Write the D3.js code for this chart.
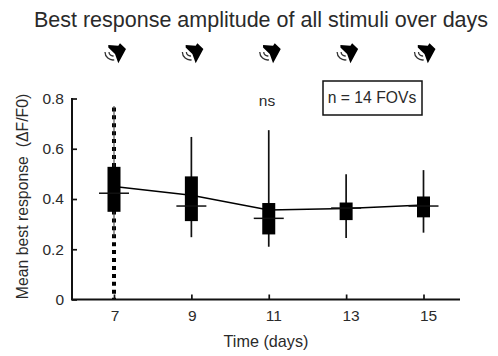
<!DOCTYPE html>
<html>
<head>
<meta charset="utf-8">
<script src="https://cdn.jsdelivr.net/npm/d3@7"></script>
<style>
  html, body { margin: 0; padding: 0; background: #fff; }
  text { font-family: "Liberation Sans", Arial, sans-serif; fill: #2a2a2a; }
</style>
</head>
<body>
<div id="chart"></div>
<script>
var w = 498, h = 356;

// Values
var days = [7, 9, 11, 13, 15];
var whiskerLow = [0, 0.248, 0.21, 0.245, 0.266];
var whiskerHigh = [0.77, 0.647, 0.674, 0.499, 0.515];
var boxLow = [0.349, 0.312, 0.259, 0.316, 0.327];
var boxHigh = [0.528, 0.49, 0.384, 0.386, 0.41];
var medians = [0.423, 0.372, 0.323, 0.364, 0.372];
var means = [0.45, 0.415, 0.356, 0.362, 0.376];
var yTicks = [0, 0.2, 0.4, 0.6, 0.8];
var dottedThinLow = 0.25; // thin core of the day 7 whisker stops here

var svg = d3.select("#chart")
  .append("svg")
  .attr("width", w)
  .attr("height", h)
  .style("display", "block");

// Day 7 sits at 114, each step of 2 days is about 77.4px
var xScale = d3.scaleLinear()
  .domain([7, 15])
  .range([114, 423.5]);

var yScale = d3.scaleLinear()
  .domain([0, 0.8])
  .range([299.5, 98.5]);

// Title
svg.append("text")
  .attr("x", 261)
  .attr("y", 27)
  .attr("text-anchor", "middle")
  .style("font-size", "21.5px")
  .text("Best response amplitude of all stimuli over days");

// Speaker icons above each day
var speaker = svg.selectAll(".speaker")
  .data(days)
  .enter()
  .append("g")
  .attr("class", "speaker")
  .attr("transform", function(d) {
    return "translate(" + xScale(d) + ",55)";
  });

speaker.append("path")
  .attr("d", "M-5.7,-10 L4.3,-9.3 L6,-11.7 L12,-6 L4.3,8.3 L1,-1 L-5.7,-7.5 Z")
  .attr("fill", "#000");

speaker.selectAll(".wave")
  .data([4, 8])
  .enter()
  .append("path")
  .attr("class", "wave")
  .attr("d", function(r) {
    return d3.arc()({ innerRadius: r, outerRadius: r, startAngle: Math.PI * 0.95, endAngle: Math.PI * 1.5 });
  })
  .attr("transform", "translate(-1,-3)")
  .attr("fill", "none")
  .attr("stroke", "#333")
  .attr("stroke-width", 1.3);

// Connecting line through the means
var meanLine = d3.line()
  .x(function(d) { return xScale(d); })
  .y(function(d, i) { return yScale(means[i]); });

svg.append("path")
  .attr("d", meanLine(days))
  .attr("fill", "none")
  .attr("stroke", "#000")
  .attr("stroke-width", 1.5);

// Whiskers, the first one is dotted
svg.selectAll(".whisker")
  .data(days)
  .enter()
  .append("line")
  .attr("class", "whisker")
  .attr("x1", function(d) { return xScale(d); })
  .attr("x2", function(d) { return xScale(d); })
  .attr("y1", function(d, i) { return yScale(whiskerLow[i]); })
  .attr("y2", function(d, i) { return yScale(whiskerHigh[i]); })
  .attr("stroke", function(d, i) { return i === 0 ? "#000" : "#111"; })
  .attr("stroke-width", function(d, i) { return i === 0 ? 4 : 1.7; })
  .attr("stroke-dasharray", function(d, i) { return i === 0 ? "4,3.93" : null; })
  .attr("stroke-dashoffset", function(d, i) { return i === 0 ? 2.2 : null; });

// Thin core of the dotted whisker
svg.append("line")
  .attr("x1", xScale(days[0]))
  .attr("x2", xScale(days[0]))
  .attr("y1", yScale(dottedThinLow))
  .attr("y2", yScale(whiskerHigh[0]))
  .attr("stroke", "#333")
  .attr("stroke-width", 1);

// Boxes
svg.selectAll(".box")
  .data(days)
  .enter()
  .append("rect")
  .attr("class", "box")
  .attr("x", function(d) { return xScale(d) - 6.5; })
  .attr("width", 13)
  .attr("y", function(d, i) { return yScale(boxHigh[i]); })
  .attr("height", function(d, i) { return yScale(boxLow[i]) - yScale(boxHigh[i]); })
  .attr("fill", "#000");

// Median ticks
svg.selectAll(".median")
  .data(days)
  .enter()
  .append("line")
  .attr("class", "median")
  .attr("x1", function(d) { return xScale(d) - 15; })
  .attr("x2", function(d) { return xScale(d) + 15; })
  .attr("y1", function(d, i) { return yScale(medians[i]); })
  .attr("y2", function(d, i) { return yScale(medians[i]); })
  .attr("stroke", "#111")
  .attr("stroke-width", 1.5);

// Y axis
var yAxis = d3.axisLeft(yScale)
  .tickValues(yTicks)
  .tickSize(-5)
  .tickPadding(8)
  .tickFormat(function(d) { return d === 0 ? "0" : d3.format(".1f")(d); });

var yG = svg.append("g")
  .attr("transform", "translate(72,0)")
  .call(yAxis);

// X axis
var xAxis = d3.axisBottom(xScale)
  .tickValues(days)
  .tickSize(-5)
  .tickPadding(10.5)
  .tickFormat(d3.format("d"));

var xG = svg.append("g")
  .attr("transform", "translate(0,299.5)")
  .call(xAxis);

xG.select(".domain").attr("d", "M71,0H460");
yG.select(".domain").attr("d", "M0,98H0V300");

svg.selectAll(".domain")
  .attr("stroke", "#111")
  .attr("stroke-width", 2);
svg.selectAll(".tick line")
  .attr("stroke", "#111")
  .attr("stroke-width", 1.7);
yG.selectAll(".tick text").style("font-size", "15.5px");
// two digit labels sit a little right of their ticks in the original
xG.selectAll(".tick text")
  .style("font-size", "15.5px")
  .attr("dx", function(d) { return d > 9 ? 4.5 : 0.5; });

// Axis titles
svg.append("text")
  .attr("transform", "translate(27.5,196.5) rotate(-90)")
  .attr("text-anchor", "middle")
  .style("font-size", "15.8px")
  .style("white-space", "pre")
  .text("Mean best response  (ΔF/F0)");

svg.append("text")
  .attr("x", 266)
  .attr("y", 347)
  .attr("text-anchor", "middle")
  .style("font-size", "16.2px")
  .text("Time (days)");

svg.append("text")
  .attr("x", 267)
  .attr("y", 105.5)
  .attr("text-anchor", "middle")
  .style("font-size", "15.5px")
  .text("ns");

// n box
svg.append("rect")
  .attr("x", 323)
  .attr("y", 81)
  .attr("width", 99)
  .attr("height", 34)
  .attr("fill", "#fff")
  .attr("stroke", "#111")
  .attr("stroke-width", 1.5);

svg.append("text")
  .attr("x", 372)
  .attr("y", 103)
  .attr("text-anchor", "middle")
  .style("font-size", "15.7px")
  .text("n = 14 FOVs");
</script>
</body>
</html>
